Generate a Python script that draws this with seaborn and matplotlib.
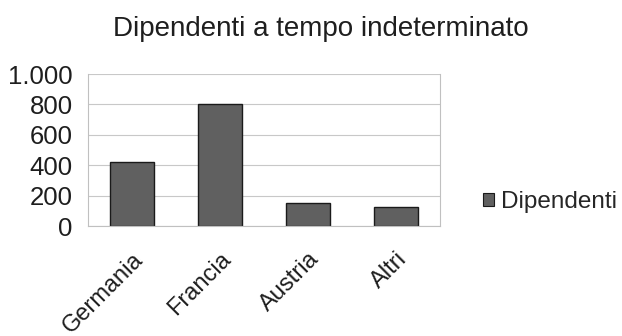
import matplotlib
matplotlib.use("Agg")
import matplotlib.pyplot as plt
import seaborn as sns
import pandas as pd
from matplotlib.patches import Patch

categories = ["Germania", "Francia", "Austria", "Altri"]
values = [420, 800, 150, 125]
yticks = [0, 200, 400, 600, 800, 1000]
ytick_labels = ["0", "200", "400", "600", "800", "1.000"]
series_name = "Dipendenti"
title = "Dipendenti a tempo indeterminato"

df = pd.DataFrame({"cat": categories, "val": values})

sns.set_theme(style="white")
plt.rcParams["font.family"] = ["Liberation Sans", "DejaVu Sans"]

fig = plt.figure(figsize=(6.22, 3.36), dpi=100)
ax = fig.add_axes([88/622, (336-226)/336, 352/622, 152/336])

sns.barplot(data=df, x="cat", y="val", ax=ax, color="#606060",
            edgecolor="#1a1a1a", linewidth=1.0, width=0.49, saturation=1)

ax.set_ylim(0, 1000)
ax.set_xlim(-0.5, len(categories) - 0.5)
ax.set_yticks(yticks)
ax.set_yticklabels(ytick_labels, fontsize=18.5, color="#1e1e1e")
ax.set_xticks(range(len(categories)))
ax.set_xticklabels(categories, rotation=45, ha="right", rotation_mode="anchor",
                   fontsize=17, color="#1e1e1e")
ax.set_xticks([i - 0.5 for i in range(len(categories) + 1)], minor=True)
ax.tick_params(axis="x", which="major", length=0, pad=16)
ax.tick_params(axis="x", which="minor", length=4, color="#b0b0b0", width=0.8, direction="out")
ax.tick_params(axis="y", length=0, pad=11)

ax.yaxis.grid(True, color="#c8c8c8", linewidth=0.8)
ax.set_axisbelow(True)
ax.spines["top"].set_visible(False)
for s in ["left", "right", "bottom"]:
    ax.spines[s].set_color("#c0c0c0")
    ax.spines[s].set_linewidth(0.8)
ax.set_xlabel("")
ax.set_ylabel("")

fig.text(0.515, 0.915, title, ha="center", va="center", fontsize=20, color="#1e1e1e")

handle = Patch(facecolor="#606060", edgecolor="#1a1a1a", linewidth=0.8)
fig.legend([handle], [series_name], loc="center left", bbox_to_anchor=(476/622, 1 - 202/336),
           frameon=False, fontsize=17.5, handlelength=0.42, handleheight=0.42,
           handletextpad=0.3, borderaxespad=0, borderpad=0.3)

fig.savefig("out.png", dpi=100)
